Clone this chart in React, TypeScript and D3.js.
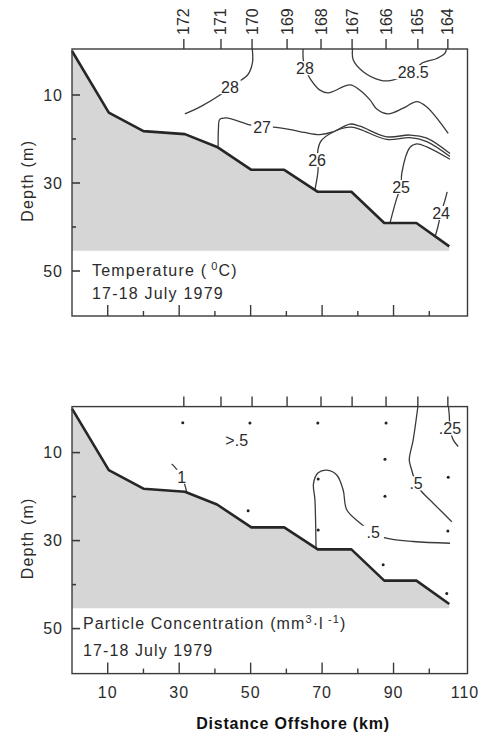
import React from "react";
import * as d3 from "d3";

type Pt = [number, number];

// Station numbers along the transect and their distance offshore (km)
const stations = [172, 171, 170, 169, 168, 167, 166, 165, 164];
const stationKm = [31.3, 41.7, 50.4, 60.2, 69.7, 78.4, 87.9, 96.8, 105.2];

// Bottom profile (km, depth m)
const bottomKm = [0, 10.3, 20, 31.6, 40.6, 50.2, 59.4, 68.8, 78.2, 87.4, 96.4, 105.6];
const bottomDepth = [0, 14, 18.2, 18.9, 21.8, 27, 27, 32, 32, 39.1, 39.1, 44.4];
const shadeBaseDepth = 45.4;

// Axis ticks
const depthTicks = [10, 20, 30, 40, 50];
const depthLabels = [10, 30, 50];
const kmTicks = [10, 20, 30, 40, 50, 60, 70, 80, 90, 100];
const kmLabels = [10, 30, 50, 70, 90, 110];

// Temperature isotherms (°C)
const temp28West: Pt[] = [[50.4, -1], [50.5, 2.7], [49.2, 5.4], [46.6, 7], [44.2, 8.2], [41.4, 10], [36.5, 12.4], [31.6, 14.3]];
const temp28East: Pt[] = [[64.7, -1], [64.7, 1.7], [65.2, 3.9], [66.6, 6.2], [69.4, 8.9], [71.7, 9.5], [77.8, 7.7], [80.6, 8.9], [83.4, 11.1], [85.3, 13.2], [88.5, 14.3], [92.7, 13], [96.5, 11.5], [99.3, 12.7], [105.3, 18.7]];
const temp285: Pt[] = [[78.6, -1], [78.7, 2], [81.5, 4.7], [86.2, 6.6], [89, 6.75], [92, 6], [95.5, 4.8], [97.9, 2.8], [102.1, 1.7], [104.4, 0.5], [104.9, -1]];
const temp27: Pt[] = [[40.9, 21.7], [41, 17.5], [41.3, 15.6], [43.1, 15.2], [49.8, 16.8], [53.2, 17.3], [56.3, 17.3], [61.9, 18], [65, 18.5], [69.4, 19], [73, 18.4], [77.8, 16.6], [80.6, 17.1], [88.1, 19.5], [94.6, 19.1], [99.3, 19.8], [105.8, 23.3]];
const temp26: Pt[] = [[68, 31.5], [68.9, 26.7], [68.6, 24.8], [69.5, 20.7], [72.2, 18.8], [77.8, 17.3], [80.6, 17.8], [88.1, 20.1], [94.6, 19.7], [99.3, 20.6], [105.8, 24]];
const temp25: Pt[] = [[89, 39.1], [91, 33.2], [92.1, 30.9], [92.3, 27.8], [94.6, 21.9], [96.5, 21.1], [99.3, 21.8], [105.8, 24.6]];
const temp24: Pt[] = [[105, 32], [104.4, 33.9], [103.3, 36.8], [102.4, 40], [101.7, 42]];

const tempLevels = ["28", "28", "28.5", "27", "26", "25", "24"];
const tempLines = [temp28West, temp28East, temp285, temp27, temp26, temp25, temp24];
const tempLabelAt: Pt[] = [[44.2, 8.2], [65.2, 3.9], [95.5, 4.8], [53.2, 17.3], [68.6, 24.8], [92.1, 30.9], [103.3, 36.8]];

// Particle concentration isolines (mm3 per litre)
const part1: Pt[] = [[27.9, 12.6], [28.8, 13.3], [30.7, 15.5], [31.6, 17.4], [32.1, 19]];
const part05Loop: Pt[] = [[68.3, 31.8], [68, 20.8], [67.6, 17], [68.9, 14.6], [71.3, 14], [74.1, 15.1], [75.9, 18.5], [76.9, 23], [80.6, 26], [84.3, 28.2], [87.6, 29.4], [95.5, 30.2], [105.8, 30.6]];
const part05East: Pt[] = [[96.9, -1], [95.5, 7.1], [94.4, 11.7], [95.1, 14], [96.3, 17], [97.9, 18.9], [101.1, 21.5], [106.3, 25.7]];
const part025: Pt[] = [[105.3, -1], [105.6, 1.5], [105.8, 4.5], [106.7, 7.1], [108.1, 8.6]];

const partLevels = ["1", ".5", ".5", ".25"];
const partLines = [part1, part05Loop, part05East, part025];
const partLabelAt: Pt[] = [[30.7, 15.5], [84.3, 28.2], [96.3, 17], [105.8, 4.5]];
const partNote = ">.5";
const partNoteAt: Pt = [46.1, 7.1];

// Sample positions (km, depth m)
const sampleKm = [31, 49.8, 68.8, 87.9, 87.6, 68.9, 87.6, 105.3, 49.3, 68.9, 105.2, 87.1, 104.9];
const sampleDepth = [3.2, 3.3, 3.3, 3.3, 11.5, 16, 19.9, 15.6, 23.2, 27.6, 27.8, 35.5, 42];

const W = 479;
const H = 734;
const FONT = "'Liberation Sans', Arial, Helvetica, sans-serif";
const INK = "#2b2b2b";

const x = d3.scaleLinear().domain([0, 110]).range([72, 465]);
const y = d3.scaleLinear().domain([0, 60]).range([51, 315]);
const frameLeft = 72;
const frameRight = 467.5;
const frameTop = 49;
const frameBottom = 316;

const curve = d3
  .line<Pt>()
  .x((d) => x(d[0]))
  .y((d) => y(d[1]))
  .curve(d3.curveCatmullRom.alpha(0.5));

const bottomPts: Pt[] = bottomKm.map((k, i) => [k, bottomDepth[i]]);
const bottomLine = d3
  .line<Pt>()
  .x((d) => x(d[0]))
  .y((d) => y(d[1]));

const shadePts: Pt[] = [
  ...bottomPts,
  [bottomKm[bottomKm.length - 1], shadeBaseDepth],
  [0, shadeBaseDepth],
];

function ContourLabel({ text, at }: { text: string; at: Pt }) {
  const fs = 16;
  const w = text.length * fs * 0.55 + 4;
  const h = 14;
  const cx = x(at[0]);
  const cy = y(at[1]);
  return (
    <g>
      <rect x={cx - w / 2} y={cy - h / 2} width={w} height={h} fill="#fff" />
      <text
        x={cx}
        y={cy}
        dy="0.36em"
        textAnchor="middle"
        fontSize={fs}
        fontFamily={FONT}
        fill={INK}
      >
        {text}
      </text>
    </g>
  );
}

function Panel({
  offset,
  id,
  children,
  title,
  showStations,
}: {
  offset: number;
  id: string;
  children: React.ReactNode;
  title: React.ReactNode;
  showStations: boolean;
}) {
  return (
    <g transform={`translate(0,${offset})`}>
      <defs>
        <clipPath id={id}>
          <rect x={frameLeft} y={frameTop} width={frameRight - frameLeft} height={frameBottom - frameTop} />
        </clipPath>
      </defs>
      <path d={bottomLine(shadePts) ?? ""} fill="#d6d6d6" stroke="none" />
      <g clipPath={`url(#${id})`}>{children}</g>
      <path
        d={bottomLine(bottomPts) ?? ""}
        fill="none"
        stroke="#262626"
        strokeWidth={2.6}
        strokeLinejoin="round"
      />
      <rect
        x={frameLeft}
        y={frameTop}
        width={frameRight - frameLeft}
        height={frameBottom - frameTop}
        fill="none"
        stroke="#3a3a3a"
        strokeWidth={1.4}
      />
      {/* station ticks along the top */}
      {stationKm.map((k, i) => (
        <g key={stations[i]}>
          <line x1={x(k)} x2={x(k)} y1={frameTop - 10} y2={frameTop} stroke="#3a3a3a" strokeWidth={1.4} />
          {showStations && (
            <text
              transform={`translate(${x(k) + 5.5},${frameTop - 14}) rotate(-90)`}
              fontSize={16}
              fontFamily={FONT}
              fill={INK}
            >
              {stations[i]}
            </text>
          )}
        </g>
      ))}
      {/* depth ticks on the inside of the left frame */}
      {depthTicks.map((d) => {
        const major = depthLabels.includes(d);
        return (
          <line
            key={d}
            x1={frameLeft}
            x2={frameLeft + (major ? 8 : 4)}
            y1={y(d)}
            y2={y(d)}
            stroke="#3a3a3a"
            strokeWidth={1.6}
          />
        );
      })}
      {depthLabels.map((d) => (
        <text
          key={d}
          x={63}
          y={y(d)}
          dy="0.36em"
          textAnchor="end"
          fontSize={16}
          fontFamily={FONT}
          fill={INK}
          letterSpacing={1}
        >
          {d}
        </text>
      ))}
      {/* distance ticks on the inside of the bottom frame */}
      {kmTicks.map((k) => {
        const major = kmLabels.includes(k);
        return (
          <line
            key={k}
            x1={x(k)}
            x2={x(k)}
            y1={frameBottom}
            y2={frameBottom - (major ? 11 : 5)}
            stroke="#3a3a3a"
            strokeWidth={1.4}
          />
        );
      })}
      <text
        transform={`translate(33,${y(29.5)}) rotate(-90)`}
        textAnchor="middle"
        fontSize={16}
        fontFamily={FONT}
        fill={INK}
        letterSpacing={1.2}
      >
        Depth (m)
      </text>
      {title}
    </g>
  );
}

export default function App() {
  const bottomOffset = 357.6;
  return (
    <svg
      width={W}
      height={H}
      viewBox={`0 0 ${W} ${H}`}
      style={{ position: "absolute", left: 0, top: 0, background: "#fff" }}
    >
      <rect x={0} y={0} width={W} height={H} fill="#fff" />
      <Panel
        offset={0}
        id="clip-temp"
        showStations={true}
        title={
          <g fontSize={16} fontFamily={FONT} fill={INK} letterSpacing={1.2}>
            <text x={92} y={276}>
              Temperature (
              <tspan dx={4} dy={-6} fontSize={11}>0</tspan>
              <tspan dy={6}>C)</tspan>
            </text>
            <text x={92} y={299}>17-18 July 1979</text>
          </g>
        }
      >
        {tempLines.map((pts, i) => (
          <path key={i} d={curve(pts) ?? ""} fill="none" stroke="#3a3a3a" strokeWidth={1.3} />
        ))}
        {tempLevels.map((lv, i) => (
          <ContourLabel key={i} text={lv} at={tempLabelAt[i]} />
        ))}
      </Panel>

      <Panel
        offset={bottomOffset}
        id="clip-part"
        showStations={false}
        title={
          <g fontSize={16} fontFamily={FONT} fill={INK} letterSpacing={1.1}>
            <text x={83} y={271}>
              Particle Concentration (mm
              <tspan dy={-6} fontSize={11}>3</tspan>
              <tspan dy={6}>·l</tspan>
              <tspan dy={-6} fontSize={11}> -1</tspan>
              <tspan dy={6}>)</tspan>
            </text>
            <text x={83} y={298}>17-18 July 1979</text>
          </g>
        }
      >
        {partLines.map((pts, i) => (
          <path key={i} d={curve(pts) ?? ""} fill="none" stroke="#3a3a3a" strokeWidth={1.3} />
        ))}
        {sampleKm.map((k, i) => (
          <circle key={i} cx={x(k)} cy={y(sampleDepth[i])} r={1.5} fill="#222" />
        ))}
        {partLevels.map((lv, i) => (
          <ContourLabel key={i} text={lv} at={partLabelAt[i]} />
        ))}
        <text
          x={x(partNoteAt[0])}
          y={y(partNoteAt[1])}
          dy="0.36em"
          textAnchor="middle"
          fontSize={16}
          fontFamily={FONT}
          fill={INK}
        >
          {partNote}
        </text>
      </Panel>

      {kmLabels.map((k) => (
        <text
          key={k}
          x={x(k)}
          y={698}
          textAnchor="middle"
          fontSize={16}
          fontFamily={FONT}
          fill={INK}
          letterSpacing={1}
        >
          {k}
        </text>
      ))}
      <text
        x={293}
        y={729}
        textAnchor="middle"
        fontSize={16}
        fontWeight="bold"
        fontFamily={FONT}
        fill="#111"
        letterSpacing={0.8}
      >
        Distance Offshore (km)
      </text>
    </svg>
  );
}
